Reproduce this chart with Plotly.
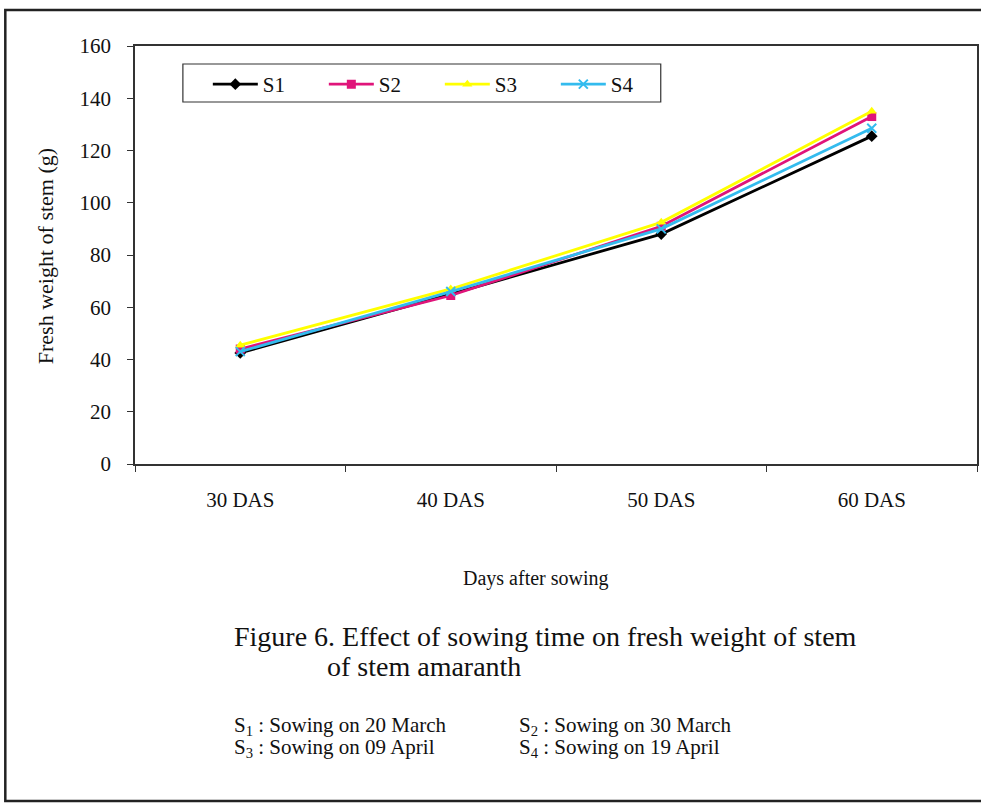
import plotly.graph_objects as go

# Days after sowing (categories) and fresh stem weight (g) per sowing date
days = ["30 DAS", "40 DAS", "50 DAS", "60 DAS"]
s1 = [42.5, 65.0, 88.0, 125.5]
s2 = [44.0, 64.5, 91.0, 133.0]
s3 = [45.5, 67.0, 92.5, 135.0]
s4 = [43.0, 66.0, 90.0, 128.5]

series_names = ["S1", "S2", "S3", "S4"]
series_colors = ["#000000", "#E0147A", "#FFFF00", "#33BBEE"]
series_symbols = ["diamond", "square", "triangle-up", "x-thin"]

W, H = 981, 806
L, R, T, B = 135, 2, 46, 342
PW, PH = W - L - R, H - T - B

def px(x):
    return (x - L) / PW

def py(y):
    return (H - B - y) / PH

SERIF = "Liberation Serif, Times New Roman, serif"
INK = "#111"

fig = go.Figure()
for name, vals, col, sym in zip(series_names, [s1, s2, s3, s4], series_colors, series_symbols):
    fig.add_trace(go.Scatter(
        x=days, y=vals, name=name, mode="lines+markers",
        line=dict(color=col, width=2.8),
        marker=dict(symbol=sym, size=9, color=col,
                    line=dict(color=col, width=2 if sym == "x-thin" else 0)),
    ))

fig.update_layout(
    width=W, height=H,
    margin=dict(l=L, r=R, t=T, b=B),
    paper_bgcolor="white", plot_bgcolor="white",
    font=dict(family=SERIF, color=INK, size=20),
    showlegend=True,
    legend=dict(
        orientation="h", x=px(208), y=py(64), xanchor="left", yanchor="top",
        bgcolor="rgba(0,0,0,0)", borderwidth=0,
        font=dict(family=SERIF, size=21, color=INK),
        itemwidth=45, entrywidth=56, tracegroupgap=0,
    ),
    xaxis=dict(
        range=[-0.5, 3.5],
        showgrid=False, showline=True, linecolor="#333", linewidth=1.5, mirror=True,
        ticks="outside", tickson="boundaries", ticklen=6, tickcolor="#333",
        tickfont=dict(family=SERIF, size=21, color=INK), ticklabelstandoff=16,
    ),
    yaxis=dict(
        range=[0, 160], dtick=20, showgrid=False, zeroline=False,
        showline=True, linecolor="#333", linewidth=1.5, mirror=True,
        ticks="outside", ticklen=6, tickcolor="#333",
        tickfont=dict(family=SERIF, size=21, color=INK), ticklabelstandoff=12,
    ),
)

# Legend box
fig.add_shape(
    type="rect", xref="paper", yref="paper",
    x0=px(183), x1=px(662), y0=py(102), y1=py(64),
    line=dict(color="#333", width=1.2), fillcolor="white", layer="below",
)

# Axis titles
fig.add_annotation(
    xref="paper", yref="paper", x=px(537), y=py(578), xanchor="center", yanchor="middle",
    text="Days after sowing", showarrow=False, font=dict(family=SERIF, size=20, color=INK),
)
fig.add_annotation(
    xref="paper", yref="paper", x=px(45), y=py(256), xanchor="center", yanchor="middle",
    text="Fresh weight of stem (g)", showarrow=False, textangle=-90,
    font=dict(family=SERIF, size=22, color=INK),
)

# Caption and sowing-date key
fig.add_annotation(
    xref="paper", yref="paper", x=px(232), y=py(636), xanchor="left", yanchor="middle",
    text="Figure 6. Effect of sowing time on fresh weight of stem", showarrow=False,
    font=dict(family=SERIF, size=28, color=INK),
)
fig.add_annotation(
    xref="paper", yref="paper", x=px(325), y=py(666), xanchor="left", yanchor="middle",
    text="of stem amaranth", showarrow=False,
    font=dict(family=SERIF, size=28, color=INK),
)
key_items = [
    ("S<sub>1</sub> : Sowing on 20 March", 232, 726),
    ("S<sub>2</sub> : Sowing on 30 March", 518, 726),
    ("S<sub>3</sub> : Sowing on 09 April", 232, 748),
    ("S<sub>4</sub> : Sowing on 19 April", 518, 748),
]
for txt, xx, yy in key_items:
    fig.add_annotation(
        xref="paper", yref="paper", x=px(xx), y=py(yy), xanchor="left", yanchor="middle",
        text=txt, showarrow=False, font=dict(family=SERIF, size=21, color=INK),
    )

# Outer frame around the figure
fig.add_shape(
    type="rect", xref="paper", yref="paper",
    x0=px(5), x1=px(990), y0=py(801), y1=py(10),
    line=dict(color="#222", width=2.5), fillcolor="rgba(0,0,0,0)", layer="below",
)

fig.write_html("out.html")
